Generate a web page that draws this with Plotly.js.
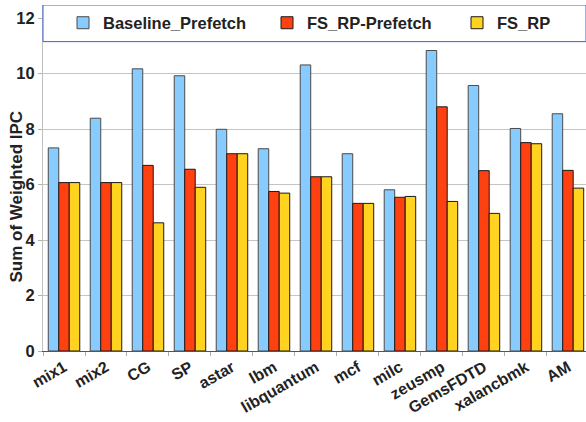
<!DOCTYPE html>
<html>
<head>
<meta charset="utf-8">
<script src="https://cdn.plot.ly/plotly-3.0.1.min.js"></script>
<style>html,body{margin:0;padding:0;background:#fff;}#chart{width:586px;height:422px;}</style>
</head>
<body>
<div id="chart"></div>
<script>
const categories = ["mix1","mix2","CG","SP","astar","lbm","libquantum","mcf","milc","zeusmp","GemsFDTD","xalancbmk","AM"];
const seriesNames = ["Baseline_Prefetch","FS_RP-Prefetch","FS_RP"];
const baselinePrefetch = [7.32, 8.39, 10.17, 9.92, 7.99, 7.29, 10.31, 7.11, 5.81, 10.83, 9.57, 8.02, 8.55];
const fsRpPrefetch     = [6.07, 6.07, 6.69, 6.55, 7.11, 5.75, 6.28, 5.32, 5.54, 8.80, 6.50, 7.51, 6.51];
const fsRp             = [6.07, 6.07, 4.62, 5.90, 7.11, 5.69, 6.28, 5.32, 5.57, 5.39, 4.96, 7.47, 5.87];
const yTitle = "Sum of Weighted IPC";

const colors = ["#87CBFF", "#FF4011", "#FFD320"];
const lineColors = ["#4a4a4a", "#1a1a1a", "#1a1a1a"];
const values = [baselinePrefetch, fsRpPrefetch, fsRp];
const legendIds = ["legend", "legend2", "legend3"];

const traces = values.map((v, i) => ({
  type: "bar",
  name: seriesNames[i],
  x: categories,
  y: v,
  legend: legendIds[i],
  marker: { color: colors[i], line: { color: lineColors[i], width: 1 } },
  hoverinfo: "x+y+name"
}));

const FAM = "Liberation Sans, Arial, sans-serif";
const legendFont = { family: FAM, size: 16.5, color: "#222", weight: "bold" };
function mkLegend(px) {
  return {
    xref: "paper", yref: "paper",
    x: (px - 43) / 543, y: (351 - 23) / 346, xanchor: "left", yanchor: "middle",
    orientation: "h", bgcolor: "rgba(0,0,0,0)", borderwidth: 0,
    font: legendFont, itemwidth: 30
  };
}

const layout = {
  width: 586, height: 422,
  margin: { l: 43, r: 0, t: 5, b: 71, pad: 0, autoexpand: false },
  paper_bgcolor: "#ffffff", plot_bgcolor: "#ffffff",
  barmode: "group", bargap: 0.25, bargroupgap: 0,
  showlegend: true,
  legend: mkLegend(63),
  legend2: mkLegend(267),
  legend3: mkLegend(457),
  xaxis: {
    type: "category",
    range: [-0.5, 12.43],
    tickangle: -30,
    tickfont: { family: FAM, size: 16, color: "#222", weight: "bold" },
    ticks: "outside", ticklen: 4, tickcolor: "#b0b0b0", tickson: "boundaries",
    showline: true, linecolor: "#555", linewidth: 1,
    showgrid: false, zeroline: false, fixedrange: true
  },
  yaxis: {
    range: [0, 12.47],
    tickvals: [0, 2, 4, 6, 8, 10, 12],
    tickfont: { family: FAM, size: 16.5, color: "#222", weight: "bold" },
    ticks: "outside", ticklen: 4, tickcolor: "#b0b0b0",
    showline: true, linecolor: "#c0c0c0", linewidth: 1,
    showgrid: true, gridcolor: "#c4c4c4", gridwidth: 1,
    zeroline: false, fixedrange: true
  },
  annotations: [{
    text: yTitle, textangle: -90, showarrow: false,
    xref: "paper", yref: "paper", x: 0, y: (351 - 196.5) / 346,
    xanchor: "center", yanchor: "middle", xshift: -27,
    font: { family: FAM, size: 17, color: "#222", weight: "bold" }
  }],
  shapes: [{
    type: "rect", layer: "above",
    xref: "paper", yref: "y",
    x0: 0, x1: 1, y0: 11.15, y1: 12.47,
    fillcolor: "#ffffff",
    line: { color: "#3a62de", width: 1 }
  }]
};

Plotly.newPlot("chart", traces, layout, { displayModeBar: false, staticPlot: true });
</script>
</body>
</html>
